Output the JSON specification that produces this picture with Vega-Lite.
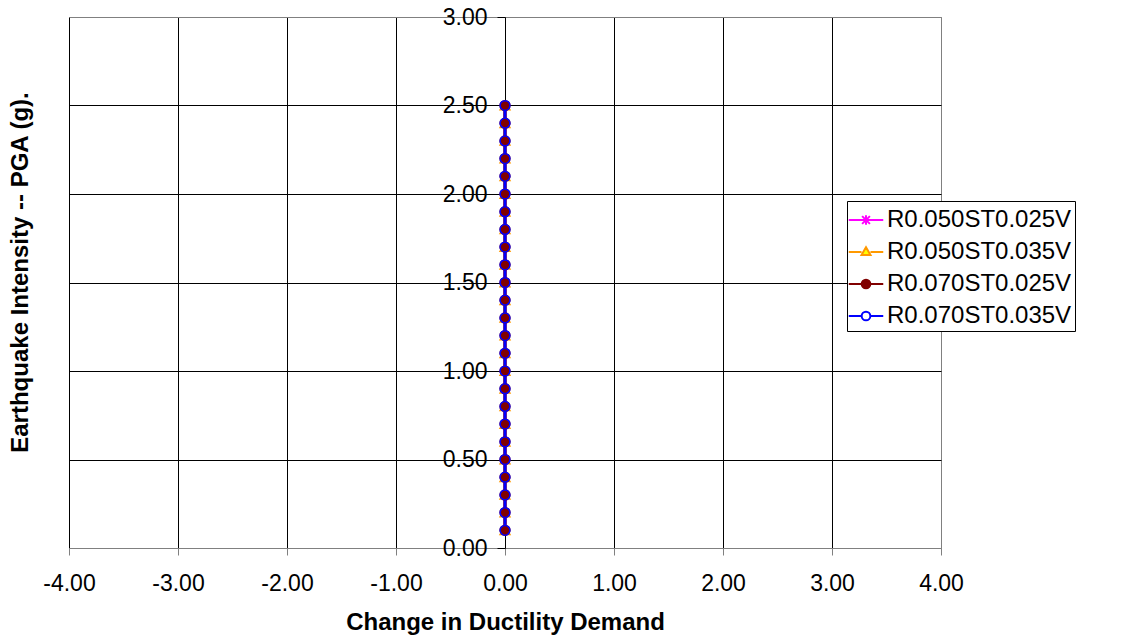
{
  "$schema": "https://vega.github.io/schema/vega-lite/v6.json",
  "width": 872,
  "height": 531,
  "autosize": {"type": "none"},
  "padding": {"left": 69, "top": 17, "right": 198, "bottom": 87},
  "background": "white",
  "config": {
    "view": {"stroke": "#808080", "strokeWidth": 1},
    "font": "Liberation Sans",
    "locale": {"number": {"decimal": ".", "thousands": ",", "grouping": [3], "currency": ["$", ""], "minus": "-"}}
  },
  "data": {"values": [
    {"series": "R0.050ST0.025V", "pga": 0.1, "change": 0}, {"series": "R0.050ST0.025V", "pga": 0.2, "change": 0}, {"series": "R0.050ST0.025V", "pga": 0.3, "change": 0}, {"series": "R0.050ST0.025V", "pga": 0.4, "change": 0}, {"series": "R0.050ST0.025V", "pga": 0.5, "change": 0},
    {"series": "R0.050ST0.025V", "pga": 0.6, "change": 0}, {"series": "R0.050ST0.025V", "pga": 0.7, "change": 0}, {"series": "R0.050ST0.025V", "pga": 0.8, "change": 0}, {"series": "R0.050ST0.025V", "pga": 0.9, "change": 0}, {"series": "R0.050ST0.025V", "pga": 1.0, "change": 0},
    {"series": "R0.050ST0.025V", "pga": 1.1, "change": 0}, {"series": "R0.050ST0.025V", "pga": 1.2, "change": 0}, {"series": "R0.050ST0.025V", "pga": 1.3, "change": 0}, {"series": "R0.050ST0.025V", "pga": 1.4, "change": 0}, {"series": "R0.050ST0.025V", "pga": 1.5, "change": 0},
    {"series": "R0.050ST0.025V", "pga": 1.6, "change": 0}, {"series": "R0.050ST0.025V", "pga": 1.7, "change": 0}, {"series": "R0.050ST0.025V", "pga": 1.8, "change": 0}, {"series": "R0.050ST0.025V", "pga": 1.9, "change": 0}, {"series": "R0.050ST0.025V", "pga": 2.0, "change": 0},
    {"series": "R0.050ST0.025V", "pga": 2.1, "change": 0}, {"series": "R0.050ST0.025V", "pga": 2.2, "change": 0}, {"series": "R0.050ST0.025V", "pga": 2.3, "change": 0}, {"series": "R0.050ST0.025V", "pga": 2.4, "change": 0}, {"series": "R0.050ST0.025V", "pga": 2.5, "change": 0},
    {"series": "R0.050ST0.035V", "pga": 0.1, "change": 0}, {"series": "R0.050ST0.035V", "pga": 0.2, "change": 0}, {"series": "R0.050ST0.035V", "pga": 0.3, "change": 0}, {"series": "R0.050ST0.035V", "pga": 0.4, "change": 0}, {"series": "R0.050ST0.035V", "pga": 0.5, "change": 0},
    {"series": "R0.050ST0.035V", "pga": 0.6, "change": 0}, {"series": "R0.050ST0.035V", "pga": 0.7, "change": 0}, {"series": "R0.050ST0.035V", "pga": 0.8, "change": 0}, {"series": "R0.050ST0.035V", "pga": 0.9, "change": 0}, {"series": "R0.050ST0.035V", "pga": 1.0, "change": 0},
    {"series": "R0.050ST0.035V", "pga": 1.1, "change": 0}, {"series": "R0.050ST0.035V", "pga": 1.2, "change": 0}, {"series": "R0.050ST0.035V", "pga": 1.3, "change": 0}, {"series": "R0.050ST0.035V", "pga": 1.4, "change": 0}, {"series": "R0.050ST0.035V", "pga": 1.5, "change": 0},
    {"series": "R0.050ST0.035V", "pga": 1.6, "change": 0}, {"series": "R0.050ST0.035V", "pga": 1.7, "change": 0}, {"series": "R0.050ST0.035V", "pga": 1.8, "change": 0}, {"series": "R0.050ST0.035V", "pga": 1.9, "change": 0}, {"series": "R0.050ST0.035V", "pga": 2.0, "change": 0},
    {"series": "R0.050ST0.035V", "pga": 2.1, "change": 0}, {"series": "R0.050ST0.035V", "pga": 2.2, "change": 0}, {"series": "R0.050ST0.035V", "pga": 2.3, "change": 0}, {"series": "R0.050ST0.035V", "pga": 2.4, "change": 0}, {"series": "R0.050ST0.035V", "pga": 2.5, "change": 0},
    {"series": "R0.070ST0.025V", "pga": 0.1, "change": 0}, {"series": "R0.070ST0.025V", "pga": 0.2, "change": 0}, {"series": "R0.070ST0.025V", "pga": 0.3, "change": 0}, {"series": "R0.070ST0.025V", "pga": 0.4, "change": 0}, {"series": "R0.070ST0.025V", "pga": 0.5, "change": 0},
    {"series": "R0.070ST0.025V", "pga": 0.6, "change": 0}, {"series": "R0.070ST0.025V", "pga": 0.7, "change": 0}, {"series": "R0.070ST0.025V", "pga": 0.8, "change": 0}, {"series": "R0.070ST0.025V", "pga": 0.9, "change": 0}, {"series": "R0.070ST0.025V", "pga": 1.0, "change": 0},
    {"series": "R0.070ST0.025V", "pga": 1.1, "change": 0}, {"series": "R0.070ST0.025V", "pga": 1.2, "change": 0}, {"series": "R0.070ST0.025V", "pga": 1.3, "change": 0}, {"series": "R0.070ST0.025V", "pga": 1.4, "change": 0}, {"series": "R0.070ST0.025V", "pga": 1.5, "change": 0},
    {"series": "R0.070ST0.025V", "pga": 1.6, "change": 0}, {"series": "R0.070ST0.025V", "pga": 1.7, "change": 0}, {"series": "R0.070ST0.025V", "pga": 1.8, "change": 0}, {"series": "R0.070ST0.025V", "pga": 1.9, "change": 0}, {"series": "R0.070ST0.025V", "pga": 2.0, "change": 0},
    {"series": "R0.070ST0.025V", "pga": 2.1, "change": 0}, {"series": "R0.070ST0.025V", "pga": 2.2, "change": 0}, {"series": "R0.070ST0.025V", "pga": 2.3, "change": 0}, {"series": "R0.070ST0.025V", "pga": 2.4, "change": 0}, {"series": "R0.070ST0.025V", "pga": 2.5, "change": 0},
    {"series": "R0.070ST0.035V", "pga": 0.1, "change": 0}, {"series": "R0.070ST0.035V", "pga": 0.2, "change": 0}, {"series": "R0.070ST0.035V", "pga": 0.3, "change": 0}, {"series": "R0.070ST0.035V", "pga": 0.4, "change": 0}, {"series": "R0.070ST0.035V", "pga": 0.5, "change": 0},
    {"series": "R0.070ST0.035V", "pga": 0.6, "change": 0}, {"series": "R0.070ST0.035V", "pga": 0.7, "change": 0}, {"series": "R0.070ST0.035V", "pga": 0.8, "change": 0}, {"series": "R0.070ST0.035V", "pga": 0.9, "change": 0}, {"series": "R0.070ST0.035V", "pga": 1.0, "change": 0},
    {"series": "R0.070ST0.035V", "pga": 1.1, "change": 0}, {"series": "R0.070ST0.035V", "pga": 1.2, "change": 0}, {"series": "R0.070ST0.035V", "pga": 1.3, "change": 0}, {"series": "R0.070ST0.035V", "pga": 1.4, "change": 0}, {"series": "R0.070ST0.035V", "pga": 1.5, "change": 0},
    {"series": "R0.070ST0.035V", "pga": 1.6, "change": 0}, {"series": "R0.070ST0.035V", "pga": 1.7, "change": 0}, {"series": "R0.070ST0.035V", "pga": 1.8, "change": 0}, {"series": "R0.070ST0.035V", "pga": 1.9, "change": 0}, {"series": "R0.070ST0.035V", "pga": 2.0, "change": 0},
    {"series": "R0.070ST0.035V", "pga": 2.1, "change": 0}, {"series": "R0.070ST0.035V", "pga": 2.2, "change": 0}, {"series": "R0.070ST0.035V", "pga": 2.3, "change": 0}, {"series": "R0.070ST0.035V", "pga": 2.4, "change": 0}, {"series": "R0.070ST0.035V", "pga": 2.5, "change": 0}
  ]},
  "layer": [
    {
      "mark": {"type": "line", "strokeWidth": 3},
      "encoding": {
        "x": {
          "field": "change", "type": "quantitative",
          "scale": {"domain": [-4, 4], "nice": false, "zero": false},
          "axis": {
            "title": "Change in Ductility Demand",
            "values": [-4, -3, -2, -1, 0, 1, 2, 3, 4],
            "format": ".2f",
            "labelFont": "Liberation Sans", "labelFontSize": 23, "labelColor": "black",
            "labelPadding": 17, "labelFlush": false, "labelOverlap": false, "labelBound": false,
            "tickSize": 7, "tickColor": "#808080", "tickWidth": 1,
            "domainColor": "#808080", "domainWidth": 1,
            "gridColor": {"condition": {"test": "datum.value === 4", "value": "#808080"}, "value": "black"},
            "gridWidth": 1, "gridOpacity": 1,
            "titleFont": "Liberation Sans", "titleFontSize": 24, "titleFontWeight": "bold", "titleColor": "black",
            "titleY": 74, "titleBaseline": "middle"
          }
        },
        "y": {
          "field": "pga", "type": "quantitative",
          "scale": {"domain": [0, 3], "nice": false, "zero": false},
          "axis": {
            "title": "Earthquake Intensity -- PGA (g).",
            "values": [0, 0.5, 1, 1.5, 2, 2.5, 3],
            "format": ".2f",
            "offset": -436,
            "labelFont": "Liberation Sans", "labelFontSize": 23, "labelColor": "black",
            "labelPadding": 10, "labelFlush": false, "labelOverlap": false, "labelBound": false,
            "tickSize": 8, "tickColor": "black", "tickWidth": 1,
            "domainColor": "black", "domainWidth": 1,
            "gridColor": {"condition": {"test": "datum.value === 3 || datum.value === 0", "value": "#808080"}, "value": "black"},
            "gridWidth": 1, "gridOpacity": 1,
            "titleFont": "Liberation Sans", "titleFontSize": 24, "titleFontWeight": "bold", "titleColor": "black",
            "titleAngle": -90, "titleX": -485, "titleY": 255, "titleBaseline": "middle", "titleAlign": "center"
          }
        },
        "stroke": {
          "field": "series", "type": "nominal",
          "scale": {"domain": ["R0.050ST0.025V", "R0.050ST0.035V", "R0.070ST0.025V", "R0.070ST0.035V"], "range": ["#FF00FF", "#FF9900", "#800000", "#0000FF"]},
          "legend": null
        },
        "order": {"field": "pga", "type": "quantitative"}
      }
    },
    {
      "mark": {"type": "point", "opacity": 1, "strokeWidth": 1.5, "size": 95},
      "encoding": {
        "x": {"field": "change", "type": "quantitative"},
        "y": {"field": "pga", "type": "quantitative"},
        "shape": {
          "field": "series", "type": "nominal",
          "scale": {"domain": ["R0.050ST0.025V", "R0.050ST0.035V", "R0.070ST0.025V", "R0.070ST0.035V"], "range": ["M0,-1V1M-0.75,-0.75L0.75,0.75M-0.75,0.75L0.75,-0.75", "triangle-up", "circle", "circle"]},
          "legend": null
        },
        "stroke": {
          "field": "series", "type": "nominal",
          "scale": {"domain": ["R0.050ST0.025V", "R0.050ST0.035V", "R0.070ST0.025V", "R0.070ST0.035V"], "range": ["#FF00FF", "#FF9900", "#800000", "#0000FF"]},
          "legend": null
        },
        "fill": {
          "field": "series", "type": "nominal",
          "scale": {"domain": ["R0.050ST0.025V", "R0.050ST0.035V", "R0.070ST0.025V", "R0.070ST0.035V"], "range": ["transparent", "#FFFF00", "#800000", "transparent"]},
          "legend": null
        }
      }
    },
    {
      "data": {"values": []},
      "mark": {"type": "point", "opacity": 1, "strokeWidth": 2},
      "encoding": {
        "x": {"field": "change", "type": "quantitative"},
        "y": {"field": "pga", "type": "quantitative"},
        "shape": {
          "field": "series", "type": "nominal",
          "scale": {"domain": ["R0.050ST0.025V", "R0.050ST0.035V", "R0.070ST0.025V", "R0.070ST0.035V"], "range": [
            "M-1.15,0H1.15M0,-0.32V0.32M-0.26,-0.26L0.26,0.26M-0.26,0.26L0.26,-0.26",
            "M-1.15,0H-0.3M0.3,0H1.15M0,-0.32L0.3,0.2H-0.3Z",
            "M-1.15,0H1.15M0.29,0A0.29,0.29 0 1,1 -0.29,0A0.29,0.29 0 1,1 0.29,0Z",
            "M-1.15,0H-0.29M0.29,0H1.15M0.29,0A0.29,0.29 0 1,1 -0.29,0A0.29,0.29 0 1,1 0.29,0Z"
          ]},
          "legend": {
            "title": null, "orient": "none", "legendX": 778, "legendY": 184,
            "strokeColor": "black", "fillColor": "white", "padding": 3, "rowPadding": 4,
            "symbolSize": 900, "symbolStrokeWidth": 2, "symbolOpacity": 1,
            "labelFont": "Liberation Sans", "labelFontSize": 24, "labelColor": "black", "labelOffset": 5, "labelLimit": 400
          }
        },
        "stroke": {
          "field": "series", "type": "nominal",
          "scale": {"domain": ["R0.050ST0.025V", "R0.050ST0.035V", "R0.070ST0.025V", "R0.070ST0.035V"], "range": ["#FF00FF", "#FF9900", "#800000", "#0000FF"]}
        },
        "fill": {
          "field": "series", "type": "nominal",
          "scale": {"domain": ["R0.050ST0.025V", "R0.050ST0.035V", "R0.070ST0.025V", "R0.070ST0.035V"], "range": ["transparent", "#FFFF00", "#800000", "white"]}
        }
      }
    }
  ],
  "resolve": {"scale": {"shape": "independent", "stroke": "independent", "fill": "independent"}}
}
